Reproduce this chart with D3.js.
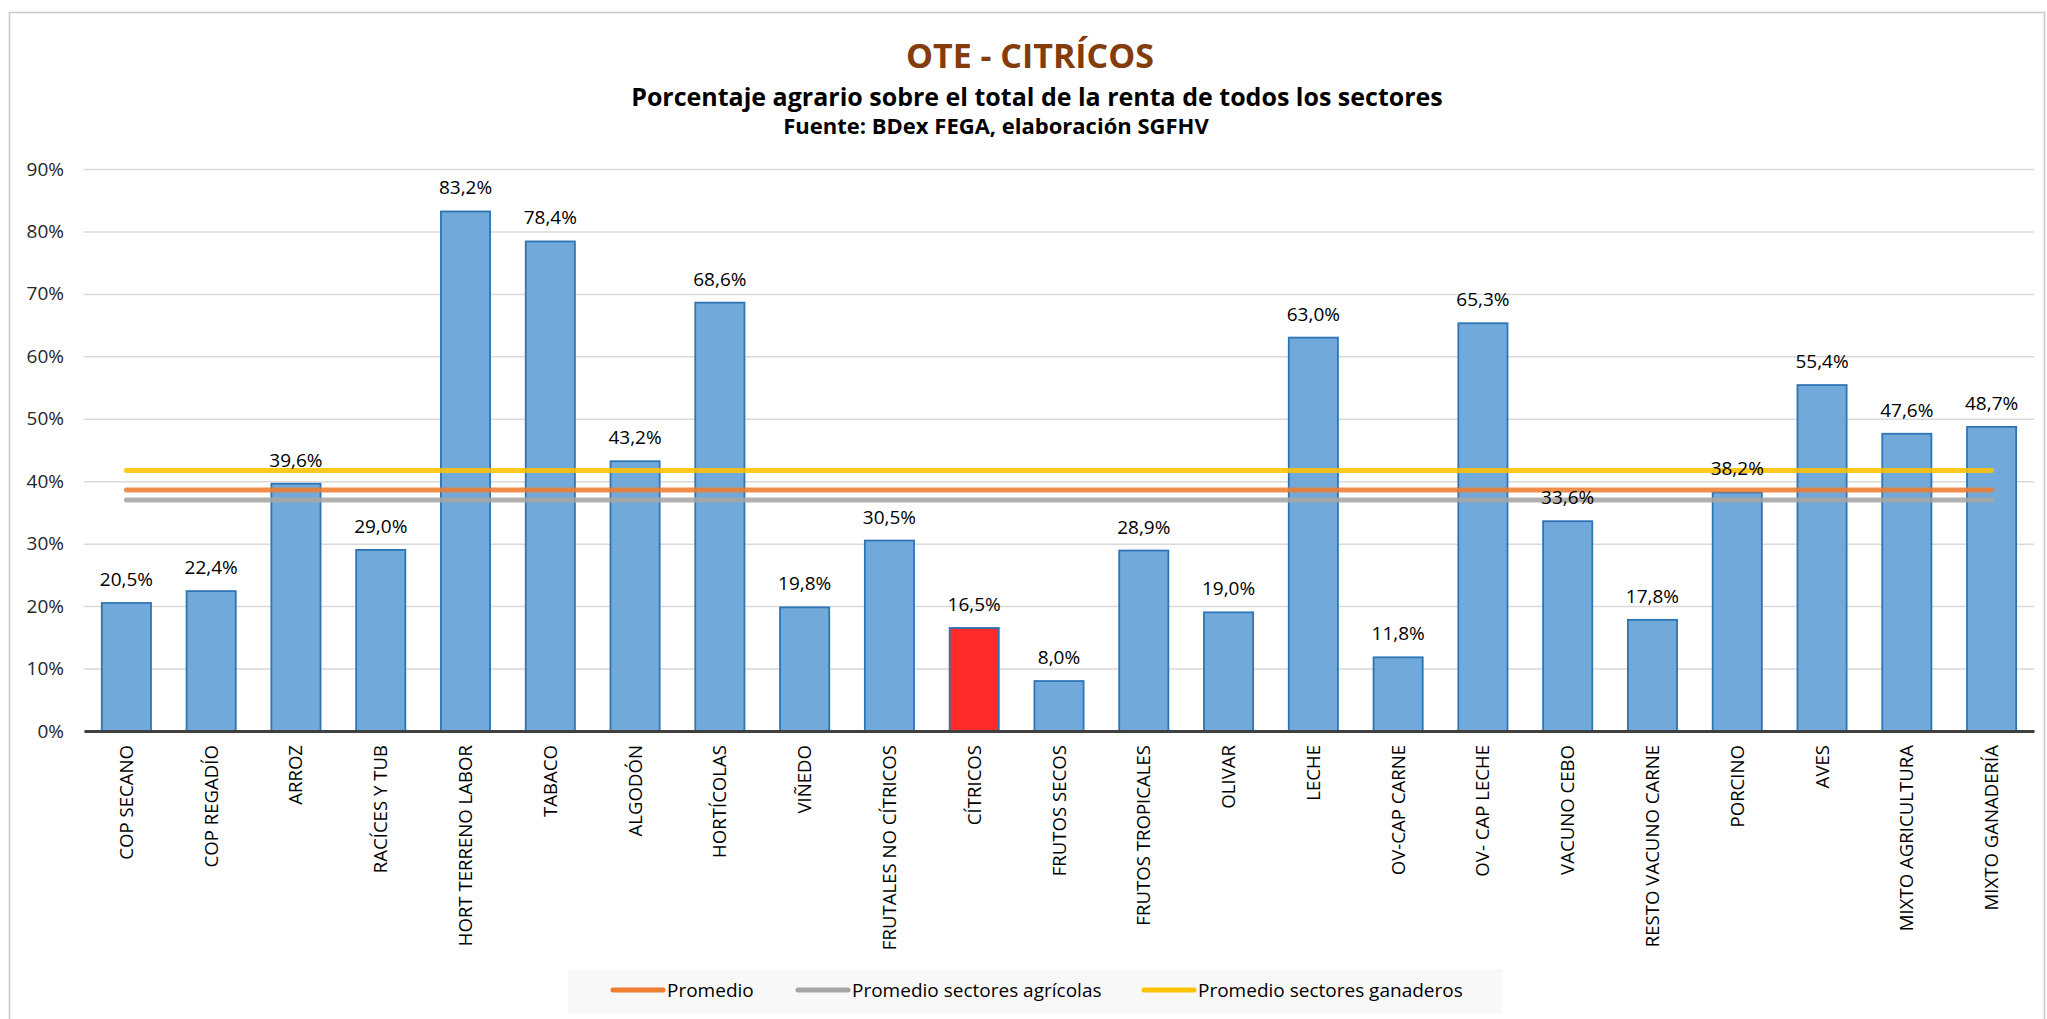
<!DOCTYPE html>
<html>
<head>
<meta charset="utf-8">
<script src="https://cdn.jsdelivr.net/npm/d3@7"></script>
<style>
  body { margin: 0; background: #fff; }
  text { font-family: 'Open Sans', sans-serif; }
</style>
</head>
<body>
<div id="d3"></div>
<script>
/* globals d3 */

let categories = ['COP SECANO', 'COP REGADÍO', 'ARROZ', 'RACÍCES Y TUB', 'HORT TERRENO LABOR', 'TABACO',
  'ALGODÓN', 'HORTÍCOLAS', 'VIÑEDO', 'FRUTALES NO CÍTRICOS', 'CÍTRICOS', 'FRUTOS SECOS', 'FRUTOS TROPICALES',
  'OLIVAR', 'LECHE', 'OV-CAP CARNE', 'OV- CAP LECHE', 'VACUNO CEBO', 'RESTO VACUNO CARNE', 'PORCINO', 'AVES',
  'MIXTO AGRICULTURA', 'MIXTO GANADERÍA']
let values = [20.5, 22.4, 39.6, 29.0, 83.2, 78.4, 43.2, 68.6, 19.8, 30.5, 16.5, 8.0, 28.9, 19.0, 63.0, 11.8,
  65.3, 33.6, 17.8, 38.2, 55.4, 47.6, 48.7]
let highlight = 'CÍTRICOS'
let averageNames = ['Promedio', 'Promedio sectores agrícolas', 'Promedio sectores ganaderos']
let averageValues = [38.6, 37.0, 41.7]
let averageColors = ['#ED7D31', '#A5A5A5', '#FFC000']
let yTicks = [0, 10, 20, 30, 40, 50, 60, 70, 80, 90]

let width = 2047
let height = 1019
let margin = { left: 84, right: 13, top: 169, bottom: 288 }

function fmt (v) {
  return v.toFixed(1).replace('.', ',') + '%'
}

function main () {
  let svg = d3.select('#d3').append('svg').attr('width', width).attr('height', height)

  // chart frame
  svg.append('rect')
    .attr('x', 9.5).attr('y', 12.5)
    .attr('width', 2035).attr('height', 1030)
    .attr('fill', '#fff').attr('stroke', '#c8c8c8').attr('stroke-width', 1.5)

  svg.append('text')
    .attr('x', 1030).attr('y', 68)
    .attr('text-anchor', 'middle')
    .attr('font-size', 34).attr('font-weight', 700).attr('fill', '#843C0C')
    .text('OTE - CITRÍCOS')
  svg.append('text')
    .attr('x', 1037).attr('y', 106)
    .attr('text-anchor', 'middle')
    .attr('font-size', 25).attr('font-weight', 700).attr('fill', '#000')
    .text('Porcentaje agrario sobre el total de la renta de todos los sectores')
  svg.append('text')
    .attr('x', 996).attr('y', 134)
    .attr('text-anchor', 'middle')
    .attr('font-size', 22).attr('font-weight', 700).attr('fill', '#000')
    .text('Fuente: BDex FEGA, elaboración SGFHV')

  let x = d3.scaleBand()
    .domain(categories)
    .range([margin.left, width - margin.right])
    .paddingInner(0.42)
    .paddingOuter(0.21)

  let y = d3.scaleLinear()
    .domain([0, 90])
    .range([height - margin.bottom, margin.top])

  // gridlines + y labels
  let yAxis = svg.append('g')
    .attr('transform', 'translate(' + margin.left + ',0)')
    .call(d3.axisLeft(y).tickValues(yTicks).tickSize(-(width - margin.left - margin.right)).tickFormat((d) => d + '%').tickPadding(20))
  yAxis.select('.domain').remove()
  yAxis.selectAll('.tick line').attr('stroke', '#d9d9d9').attr('stroke-width', 1.5)
  yAxis.selectAll('.tick text')
    .attr('font-family', 'Open Sans, sans-serif')
    .attr('font-size', 19).attr('fill', '#262626')

  // bars
  svg.append('g').selectAll('rect')
    .data(values)
    .enter().append('rect')
      .attr('x', (d, i) => x(categories[i]))
      .attr('y', (d) => y(d))
      .attr('width', x.bandwidth())
      .attr('height', (d) => y(0) - y(d))
      .attr('fill', (d, i) => categories[i] === highlight ? '#FF2A2A' : '#72A9DB')
      .attr('stroke', '#2E75B6')
      .attr('stroke-width', 1.8)

  // x axis
  let xAxis = svg.append('g')
    .attr('transform', 'translate(0,' + y(0) + ')')
    .call(d3.axisBottom(x).tickSize(0).tickPadding(14))
  xAxis.select('.domain').attr('stroke', '#404040').attr('stroke-width', 3)
  xAxis.selectAll('.tick text')
    .attr('font-family', 'Open Sans, sans-serif')
    .attr('font-size', 18.6).attr('fill', '#000')
    .attr('text-anchor', 'end')
    .attr('dy', '0.35em')
    .attr('transform', 'rotate(-90)')
    .attr('x', -14).attr('y', 0)

  // average lines
  let x0 = x(categories[0]) + x.bandwidth() / 2
  let x1 = x(categories[categories.length - 1]) + x.bandwidth() / 2
  svg.append('g').selectAll('line')
    .data(averageValues)
    .enter().append('line')
      .attr('x1', x0).attr('x2', x1)
      .attr('y1', (d) => y(d)).attr('y2', (d) => y(d))
      .attr('stroke', (d, i) => averageColors[i])
      .attr('stroke-width', 5)
      .attr('stroke-linecap', 'round')
      .attr('stroke-opacity', 0.88)

  // data labels
  svg.append('g').selectAll('text')
    .data(values)
    .enter().append('text')
      .attr('x', (d, i) => x(categories[i]) + x.bandwidth() / 2)
      .attr('y', (d) => y(d) - 17)
      .attr('text-anchor', 'middle')
      .attr('font-size', 19).attr('fill', '#000')
      .text(fmt)

  // legend
  let legend = svg.append('g')
  legend.append('rect')
    .attr('x', 568).attr('y', 969).attr('width', 934).attr('height', 44)
    .attr('fill', '#f8f8f8')
  let legendX = [613, 798, 1144]
  averageNames.forEach(function (n, i) {
    legend.append('line')
      .attr('x1', legendX[i]).attr('x2', legendX[i] + 50)
      .attr('y1', 990).attr('y2', 990)
      .attr('stroke', averageColors[i]).attr('stroke-width', 5).attr('stroke-linecap', 'round')
    legend.append('text')
      .attr('x', legendX[i] + 54).attr('y', 990)
      .attr('dy', '0.35em')
      .attr('font-family', 'Carlito, Lato, sans-serif')
      .attr('font-size', 19).attr('fill', '#000')
      .text(n)
  })
}

main()
</script>
</body>
</html>
